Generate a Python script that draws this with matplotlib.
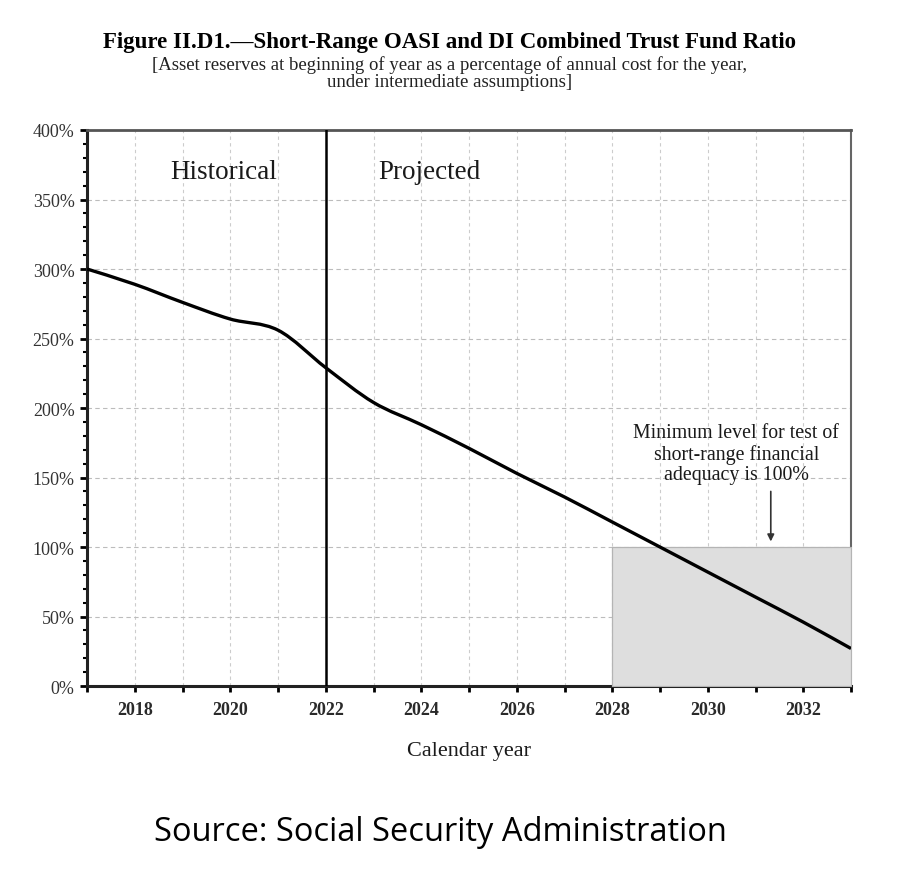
import matplotlib
matplotlib.use("Agg")
import matplotlib.pyplot as plt
import numpy as np
from matplotlib.ticker import MultipleLocator, FuncFormatter
from matplotlib.path import Path
from matplotlib.patches import PathPatch

years = [2017, 2018, 2019, 2020, 2021, 2022, 2023, 2024, 2025, 2026, 2027,
         2028, 2029, 2030, 2031, 2032, 2033]
ratio = [300, 289, 276, 264, 256, 229, 204, 188, 171, 153, 136,
         118, 100, 82, 64, 46, 27]
split_year = 2022
test_start, test_end, test_level = 2028, 2033, 100

serif = "Liberation Serif"
fig = plt.figure(figsize=(9.2, 8.78), dpi=100)
ax = fig.add_axes([0.0946, 0.2175, 0.8304, 0.6333])

ax.set_xlim(2017, 2033)
ax.set_ylim(0, 400)

# shaded test region (drawn over the spines as in the original)
ax.fill_between([test_start, test_end], 0, test_level, color="#dedede",
                edgecolor="#b4b4b4", linewidth=0.9, zorder=2.6)

# smooth curve through the annual values (cubic Bezier segments)
pts = np.column_stack([years, ratio]).astype(float)
n = len(pts)
verts = [tuple(pts[0])]
codes = [Path.MOVETO]
for i in range(n - 1):
    p0 = pts[i - 1] if i > 0 else pts[i]
    p1 = pts[i]
    p2 = pts[i + 1]
    p3 = pts[i + 2] if i + 2 < n else pts[i + 1]
    c1 = p1 + (p2 - p0) / 6.0
    c2 = p2 - (p3 - p1) / 6.0
    verts += [tuple(c1), tuple(c2), tuple(p2)]
    codes += [Path.CURVE4] * 3
ax.add_patch(PathPatch(Path(verts, codes), fill=False, edgecolor="black",
                       lw=2.4, zorder=3, capstyle="butt"))
ax.axvline(split_year, color="black", lw=1.8, zorder=4)

ax.xaxis.set_major_locator(MultipleLocator(2))
ax.xaxis.set_minor_locator(MultipleLocator(1))
ax.yaxis.set_major_locator(MultipleLocator(50))
ax.yaxis.set_minor_locator(MultipleLocator(10))
ax.yaxis.set_major_formatter(FuncFormatter(lambda v, p: f"{int(v)}%"))
ax.grid(which="major", axis="y", color="#bcbcbc", ls=(0, (4, 3)), lw=0.8, zorder=0)
ax.grid(which="both", axis="x", color="#cccccc", ls=(0, (3, 3)), lw=0.8, zorder=0)

ax.tick_params(axis="x", which="both", direction="out", length=4, width=2,
               labelsize=13, pad=7)
ax.tick_params(axis="y", which="major", direction="out", length=5, width=2,
               labelsize=13, pad=4)
ax.tick_params(axis="y", which="minor", direction="out", length=3, width=1.5)
for lab in ax.get_xticklabels():
    lab.set_fontfamily(serif)
    lab.set_fontweight("bold")
    lab.set_color("#2a2a2a")
for lab in ax.get_yticklabels():
    lab.set_fontfamily(serif)
    lab.set_color("#333333")

for side in ["left", "bottom"]:
    ax.spines[side].set_linewidth(2.2)
    ax.spines[side].set_color("#222222")
ax.spines["top"].set_linewidth(2.0)
ax.spines["top"].set_color("#555555")
ax.spines["right"].set_linewidth(1.5)
ax.spines["right"].set_color("#666666")

ax.text(2019.87, 370, "Historical", ha="center", va="center", fontsize=19.5,
        family=serif, color="#1a1a1a")
ax.text(2024.18, 370, "Projected", ha="center", va="center", fontsize=19.5,
        family=serif, color="#1a1a1a")
ax.text(2030.6, 167, "Minimum level for test of\nshort-range financial\nadequacy is 100%",
        ha="center", va="center", fontsize=14.3, family=serif, color="#1a1a1a",
        linespacing=1.1)
ax.annotate("", xy=(2031.32, 102), xytext=(2031.32, 142),
            arrowprops=dict(arrowstyle="-|>", color="#333333", lw=1.2,
                            mutation_scale=10))

ax.set_xlabel("Calendar year", fontsize=16, family=serif, labelpad=16,
              color="#1a1a1a")

fig.text(0.489, 0.952, "Figure II.D1.\u2014Short-Range OASI and DI Combined Trust Fund Ratio",
         ha="center", va="center", fontsize=16.5, fontweight="bold", family=serif)
fig.text(0.489, 1 - 65.5 / 878,
         "[Asset reserves at beginning of year as a percentage of annual cost for the year,",
         ha="center", va="center", fontsize=13.5, family=serif, color="#222222")
fig.text(0.489, 1 - 82.5 / 878, "under intermediate assumptions]",
         ha="center", va="center", fontsize=13.5, family=serif, color="#222222")

fig.text(0.479, 0.052, "Source: Social Security Administration", ha="center",
         va="center", fontsize=23.5, family="Open Sans", color="black")

fig.savefig("out.png", dpi=100)
